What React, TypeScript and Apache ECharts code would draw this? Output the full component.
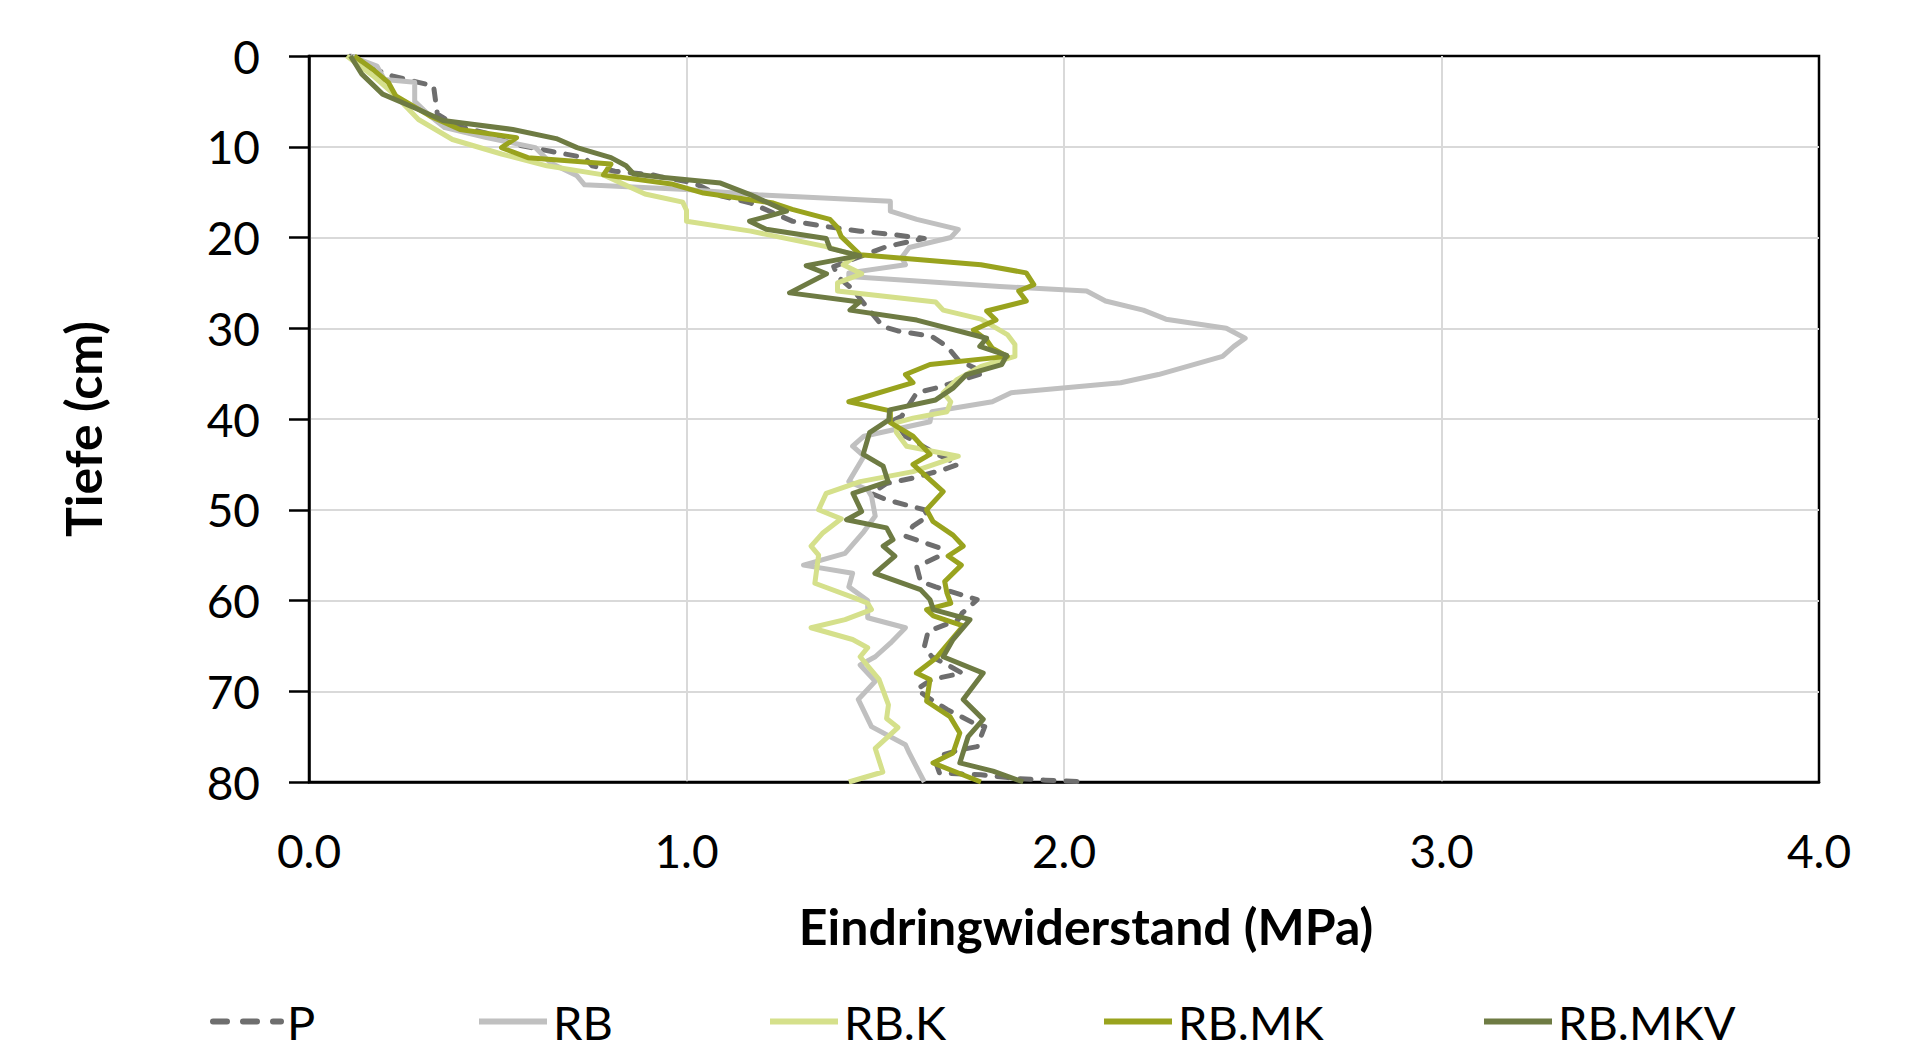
import React, { useEffect, useRef } from "react";
import * as echarts from "echarts";

// ---------- DATA (depth in cm, penetration resistance in MPa) ----------
const seriesNames = ["P", "RB", "RB.K", "RB.MK", "RB.MKV"];
const xTickLabels = ["0.0", "1.0", "2.0", "3.0", "4.0"];
const yTickLabels = ["0", "10", "20", "30", "40", "50", "60", "70", "80"];

const pDepth = [0, 1.7, 2.2, 2.9, 3.3, 6.4, 7.7, 8.5, 9.7, 10.5, 11.2, 12.1, 12.7, 13.1, 13.3, 14.0, 15.4, 16.2, 18.2, 18.8, 19.3, 19.7, 20.1, 21.0, 23.2, 24.3, 25.7, 27.8, 29.8, 30.3, 30.9, 32.0, 33.5, 34.9, 36.6, 37.1, 39.7, 40.1, 41.9, 43.8, 45.0, 45.6, 46.5, 47.1, 48.2, 48.9, 50.0, 50.7, 51.8, 52.9, 54.2, 55.1, 56.3, 57.9, 58.5, 59.9, 61.4, 62.1, 63.4, 65.1, 66.2, 67.3, 68.0, 68.7, 69.8, 70.7, 72.0, 73.5, 73.9, 76.1, 76.5, 77.0, 77.8, 79.0, 79.2, 79.6, 79.8, 80.0];
const pValue = [0.11, 0.19, 0.22, 0.29, 0.33, 0.34, 0.39, 0.47, 0.54, 0.64, 0.73, 0.75, 0.81, 0.91, 0.93, 1.02, 1.09, 1.17, 1.28, 1.37, 1.46, 1.55, 1.63, 1.53, 1.39, 1.40, 1.44, 1.48, 1.52, 1.56, 1.65, 1.69, 1.72, 1.79, 1.66, 1.61, 1.57, 1.55, 1.58, 1.66, 1.72, 1.68, 1.60, 1.53, 1.49, 1.53, 1.63, 1.64, 1.60, 1.58, 1.67, 1.67, 1.61, 1.62, 1.66, 1.77, 1.73, 1.72, 1.64, 1.63, 1.65, 1.70, 1.73, 1.65, 1.61, 1.64, 1.69, 1.76, 1.79, 1.77, 1.72, 1.68, 1.66, 1.67, 1.78, 1.87, 1.95, 2.06];

const rbDepth = [0, 1.1, 2.6, 2.9, 5.0, 6.6, 7.9, 9.0, 10.1, 11.8, 13.2, 14.2, 14.7, 15.3, 16.0, 17.1, 18.0, 19.1, 20.0, 21.1, 22.2, 23.0, 23.9, 24.3, 25.4, 25.9, 27.0, 28.0, 29.0, 30.0, 31.1, 32.0, 33.1, 35.1, 36.0, 37.1, 38.1, 39.2, 40.3, 41.9, 43.0, 44.1, 46.9, 47.8, 48.5, 50.7, 52.4, 54.8, 56.1, 57.0, 58.5, 60.0, 61.9, 63.0, 64.7, 66.2, 67.1, 68.9, 70.9, 73.9, 75.9, 76.8, 80.0];
const rbValue = [0.11, 0.18, 0.20, 0.28, 0.28, 0.32, 0.36, 0.47, 0.60, 0.64, 0.71, 0.73, 1.00, 1.19, 1.54, 1.54, 1.61, 1.72, 1.70, 1.59, 1.57, 1.58, 1.43, 1.43, 1.83, 2.06, 2.11, 2.21, 2.27, 2.43, 2.48, 2.45, 2.42, 2.25, 2.15, 1.86, 1.81, 1.65, 1.645, 1.47, 1.44, 1.47, 1.43, 1.48, 1.49, 1.50, 1.47, 1.42, 1.31, 1.44, 1.43, 1.48, 1.48, 1.58, 1.54, 1.50, 1.46, 1.50, 1.455, 1.49, 1.58, 1.59, 1.63];

const rbkDepth = [0, 2.2, 4.4, 7.0, 9.2, 10.8, 12.1, 13.1, 15.2, 16.1, 17.0, 18.2, 19.3, 21.0, 22.0, 23.0, 24.0, 25.0, 25.9, 27.1, 28.0, 29.0, 30.7, 31.8, 33.1, 34.2, 35.7, 37.1, 38.1, 39.2, 39.9, 40.4, 41.5, 43.0, 44.1, 45.8, 46.9, 48.2, 50.0, 51.0, 52.6, 54.0, 55.0, 58.1, 59.8, 60.3, 61.0, 62.1, 63.0, 64.3, 65.2, 66.2, 68.7, 71.5, 73.0, 74.0, 76.3, 78.9, 80.0];
const rbkValue = [0.10, 0.17, 0.23, 0.29, 0.38, 0.51, 0.63, 0.78, 0.89, 0.99, 1.00, 1.00, 1.17, 1.37, 1.45, 1.415, 1.464, 1.40, 1.40, 1.66, 1.68, 1.78, 1.85, 1.87, 1.87, 1.78, 1.715, 1.68, 1.70, 1.69, 1.60, 1.556, 1.556, 1.583, 1.72, 1.60, 1.46, 1.37, 1.35, 1.41, 1.36, 1.33, 1.35, 1.34, 1.45, 1.48, 1.49, 1.42, 1.33, 1.44, 1.48, 1.46, 1.51, 1.535, 1.53, 1.56, 1.50, 1.52, 1.43];

const rbmkDepth = [0, 1.5, 2.9, 4.4, 6.6, 8.1, 9.0, 10.1, 11.2, 11.9, 13.1, 14.1, 15.1, 16.2, 16.9, 18.0, 18.9, 19.9, 21.9, 23.0, 23.9, 25.2, 25.9, 27.0, 28.1, 29.1, 30.2, 31.3, 32.2, 33.1, 34.0, 35.1, 36.0, 38.1, 39.1, 40.4, 41.9, 43.9, 45.0, 48.0, 50.0, 51.3, 52.8, 54.0, 55.1, 56.1, 57.9, 59.2, 60.3, 61.0, 61.7, 62.8, 66.3, 68.0, 68.7, 71.1, 72.8, 74.6, 76.8, 77.9, 80.0];
const rbmkValue = [0.12, 0.17, 0.21, 0.23, 0.32, 0.40, 0.55, 0.51, 0.58, 0.80, 0.78, 0.96, 1.045, 1.23, 1.28, 1.38, 1.40, 1.41, 1.46, 1.78, 1.90, 1.92, 1.88, 1.90, 1.795, 1.82, 1.76, 1.795, 1.81, 1.85, 1.645, 1.58, 1.60, 1.43, 1.54, 1.54, 1.60, 1.645, 1.60, 1.68, 1.636, 1.653, 1.706, 1.733, 1.693, 1.728, 1.684, 1.69, 1.70, 1.636, 1.654, 1.733, 1.662, 1.609, 1.645, 1.636, 1.698, 1.724, 1.706, 1.653, 1.78];

const rbmkvDepth = [0, 2.0, 4.2, 5.9, 7.1, 8.1, 9.1, 10.1, 11.2, 12.1, 13.0, 13.4, 14.0, 15.3, 17.1, 18.2, 19.1, 20.1, 21.2, 22.0, 23.1, 24.0, 26.1, 27.1, 28.0, 29.1, 31.1, 32.0, 33.0, 34.0, 35.1, 36.6, 37.9, 39.0, 40.1, 41.5, 43.9, 45.2, 46.9, 48.2, 50.2, 51.1, 52.0, 53.3, 54.0, 55.1, 57.0, 58.8, 59.9, 61.0, 62.1, 64.3, 66.2, 68.0, 70.9, 73.1, 75.0, 77.9, 78.8, 80.0];
const rbmkvValue = [0.11, 0.14, 0.195, 0.29, 0.355, 0.54, 0.655, 0.71, 0.80, 0.84, 0.86, 0.94, 1.09, 1.17, 1.265, 1.167, 1.211, 1.37, 1.38, 1.459, 1.317, 1.371, 1.273, 1.459, 1.433, 1.61, 1.795, 1.777, 1.848, 1.835, 1.742, 1.706, 1.66, 1.538, 1.536, 1.485, 1.468, 1.521, 1.534, 1.441, 1.464, 1.424, 1.53, 1.547, 1.521, 1.552, 1.499, 1.62, 1.645, 1.654, 1.751, 1.706, 1.68, 1.786, 1.733, 1.786, 1.746, 1.724, 1.812, 1.892];

const seriesColors = ["#6e6e6e", "#c0c0c0", "#d5e08b", "#99a31e", "#6e7b43"];
const legendLeft = [205, 471, 762, 1096, 1476];

function pairs(values: number[], depths: number[]) {
  const n = Math.min(values.length, depths.length);
  const out: number[][] = [];
  for (let i = 0; i < n; i++) out.push([values[i], depths[i]]);
  return out;
}

const allData = [
  pairs(pValue, pDepth),
  pairs(rbValue, rbDepth),
  pairs(rbkValue, rbkDepth),
  pairs(rbmkValue, rbmkDepth),
  pairs(rbmkvValue, rbmkvDepth),
];

const FONT = "Lato";

export default function App() {
  const ref = useRef<HTMLDivElement>(null);
  useEffect(() => {
    if (!ref.current) return;
    const chart = echarts.init(ref.current, undefined, { renderer: "svg" });
    const series = seriesNames.map((name, i) => ({
      name,
      type: "line",
      data: allData[i],
      showSymbol: false,
      symbol: "none",
      smooth: false,
      clip: true,
      lineStyle: {
        color: seriesColors[i],
        width: 5,
        type: i === 0 ? [11, 12] : "solid",
        cap: i === 0 ? "round" : "butt",
        join: "round",
      },
      itemStyle: { color: seriesColors[i] },
      z: 2 + i,
    }));
    const legends = seriesNames.map((name, i) => ({
      data: [name],
      left: legendLeft[i],
      top: 993,
      orient: "horizontal",
      itemWidth: 68,
      itemHeight: 14,
      itemGap: 0,
      selectedMode: false,
      itemStyle: { opacity: 0 },
      lineStyle: i === 0 ? { width: 6, type: [14, 16], cap: "round" } : { width: 6 },
      textStyle: { fontSize: 47, color: "#000", fontFamily: FONT, padding: [0, 0, 0, 1] },
    }));
    chart.setOption({
      animation: false,
      textStyle: { fontFamily: FONT },
      grid: {
        left: 309,
        top: 56,
        right: 96,
        bottom: 270,
        show: true,
        borderColor: "#000",
        borderWidth: 2.5,
        containLabel: false,
      },
      xAxis: {
        type: "value",
        min: 0,
        max: 4,
        interval: 1,
        axisLine: { show: true, onZero: false, lineStyle: { color: "#000", width: 2.5 } },
        axisTick: { show: false },
        axisLabel: {
          fontSize: 46,
          color: "#000",
          fontFamily: FONT,
          margin: 45,
          formatter: (v: number) => xTickLabels[Math.round(v)] ?? v.toFixed(1),
        },
        splitLine: {
          show: true,
          showMinLine: false,
          showMaxLine: false,
          lineStyle: { color: "#d9d9d9", width: 2 },
        },
      },
      yAxis: {
        type: "value",
        inverse: true,
        min: 0,
        max: 80,
        interval: 10,
        axisLine: { show: true, onZero: false, lineStyle: { color: "#000", width: 2.5 } },
        axisTick: { show: true, inside: false, length: 20, lineStyle: { color: "#000", width: 2.5 } },
        axisLabel: {
          fontSize: 46,
          color: "#000",
          fontFamily: FONT,
          margin: 49,
          formatter: (v: number) => yTickLabels[Math.round(v / 10)] ?? String(v),
        },
        splitLine: {
          show: true,
          showMinLine: false,
          showMaxLine: false,
          lineStyle: { color: "#d9d9d9", width: 2 },
        },
      },
      legend: legends,
      graphic: [
        {
          type: "text",
          x: 1086,
          y: 926,
          style: {
            text: "Eindringwiderstand (MPa)",
            font: `bold 50px ${FONT}`,
            fill: "#000",
            align: "center",
            verticalAlign: "middle",
          },
        },
        {
          type: "text",
          x: 83,
          y: 429,
          rotation: Math.PI / 2,
          style: {
            text: "Tiefe (cm)",
            font: `bold 50px ${FONT}`,
            fill: "#000",
            align: "center",
            verticalAlign: "middle",
          },
        },
      ],
      series,
    });
    return () => chart.dispose();
  }, []);
  return (
    <div
      ref={ref}
      style={{ position: "fixed", left: 0, top: 0, width: 1915, height: 1052, background: "#fff" }}
    />
  );
}
